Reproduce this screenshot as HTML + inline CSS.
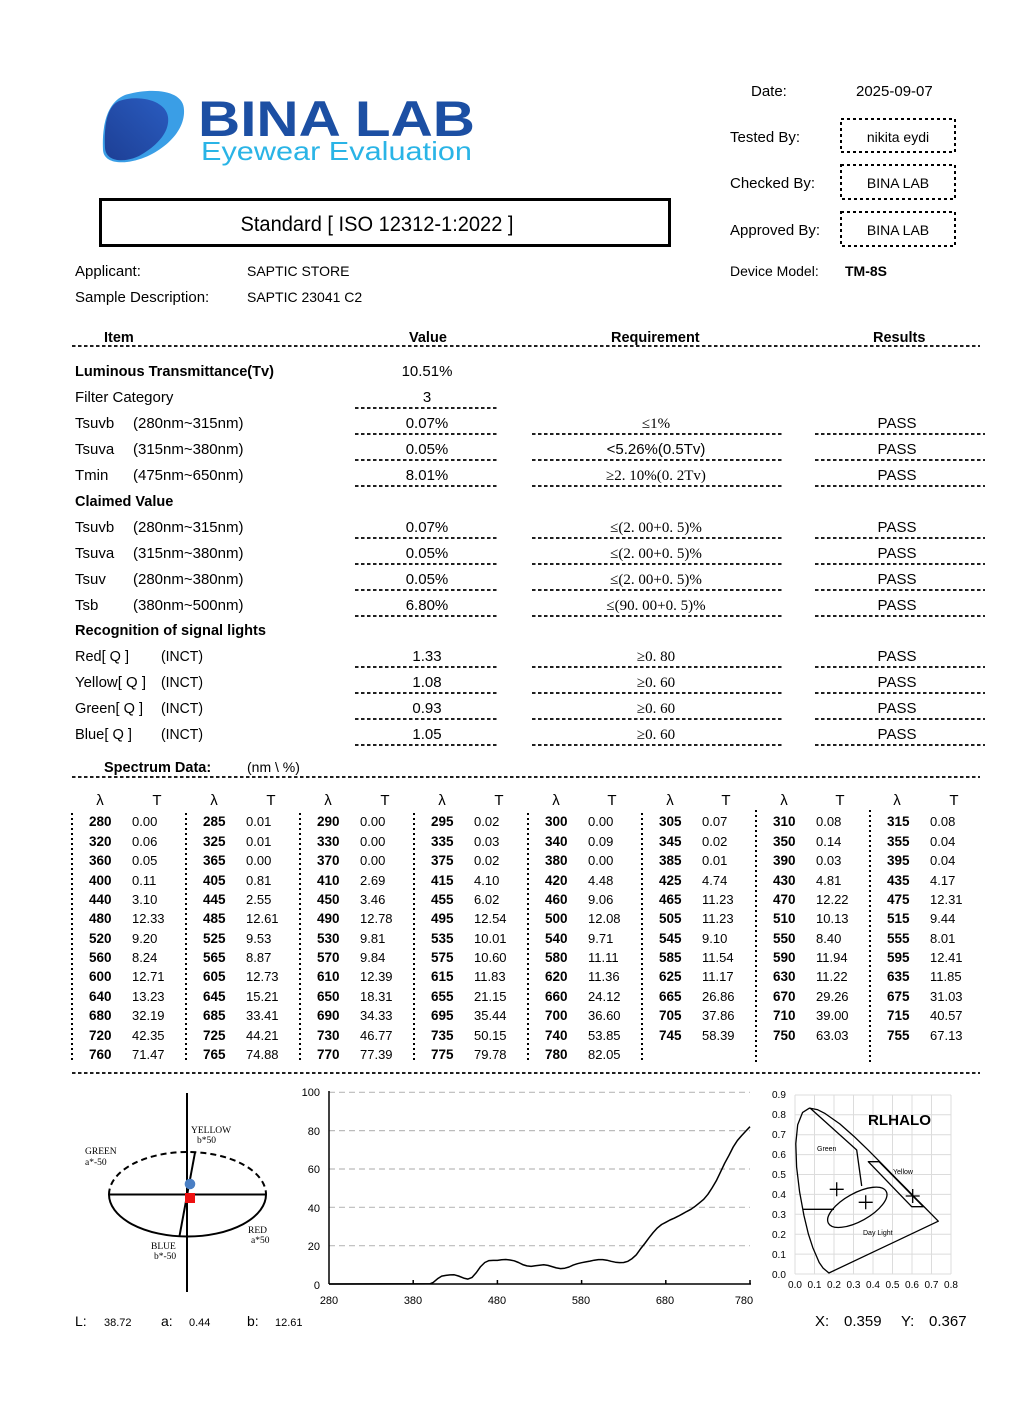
<!DOCTYPE html>
<html><head><meta charset="utf-8">
<style>
html,body{margin:0;padding:0;background:#fff;}
svg{display:block;}
text{font-family:"Liberation Sans","Noto Sans CJK SC",sans-serif;fill:#000;}
.b{font-weight:bold;}
.s15{font-size:15px;}
.h{font-size:14.5px;font-weight:bold;}
text.ser, .ser text{font-family:"Liberation Serif","DejaVu Serif","Noto Serif CJK SC",serif !important;font-size:15px;}
text.lab, .lab text{font-family:"Liberation Serif","DejaVu Serif",serif !important;font-size:9.5px;}
.dl{stroke:#000;stroke-width:1.8;stroke-dasharray:3.5 2.5;fill:none;}
.sp{font-size:13px;}
.spb{font-size:13.5px;font-weight:bold;}
.ax{font-size:11px;}
.cx{font-size:10px;}
</style></head>
<body>
<svg width="1024" height="1412" viewBox="0 0 1024 1412" xmlns="http://www.w3.org/2000/svg">
<defs>
<linearGradient id="lg1" x1="0" y1="1" x2="1" y2="0">
<stop offset="0" stop-color="#1d3f95"/><stop offset="1" stop-color="#2a5cc0"/>
</linearGradient>
</defs>
<rect width="1024" height="1412" fill="#fff"/>

<!-- Logo -->
<path d="M125 95 C152 87 184 90 184 110 C185 128 170 145 150 155 C130 165 104 166 103 150 C102 130 105 103 125 95 Z" fill="#3a9ee6"/>
<path d="M119 101 C140 94 166 101 168 117 C170 132 157 146 139 156 C124 163 106 162 105 148 C104 128 106 107 119 101 Z" fill="url(#lg1)"/>
<text x="198" y="136" font-size="50" font-weight="bold" style="fill:#1c4fa3" textLength="277" lengthAdjust="spacingAndGlyphs">BINA LAB</text>
<text x="201" y="160" font-size="26" style="fill:#2ab4e6" textLength="271" lengthAdjust="spacingAndGlyphs">Eyewear Evaluation</text>

<!-- Standard box -->
<rect x="100.5" y="199.5" width="569" height="46" fill="none" stroke="#000" stroke-width="3"/>
<text x="377" y="231" font-size="21" text-anchor="middle" textLength="273" lengthAdjust="spacingAndGlyphs">Standard [ ISO 12312-1:2022 ]</text>

<text x="75" y="276" class="s15">Applicant:</text>
<text x="247" y="276" font-size="14">SAPTIC STORE</text>
<text x="75" y="302" class="s15">Sample Description:</text>
<text x="247" y="302" font-size="14">SAPTIC 23041 C2</text>

<!-- Right header -->
<text x="751" y="96" class="s15">Date:</text>
<text x="856" y="96" class="s15">2025-09-07</text>
<text x="730" y="142" class="s15">Tested By:</text>
<rect x="841" y="119" width="114" height="33" fill="none" stroke="#000" stroke-width="2" stroke-dasharray="3 3"/>
<text x="898" y="142" font-size="14" text-anchor="middle">nikita eydi</text>
<text x="730" y="188" class="s15">Checked By:</text>
<rect x="841" y="165" width="114" height="34" fill="none" stroke="#000" stroke-width="2" stroke-dasharray="3 3"/>
<text x="898" y="188" font-size="14" text-anchor="middle">BINA LAB</text>
<text x="730" y="235" class="s15">Approved By:</text>
<rect x="841" y="212" width="114" height="34" fill="none" stroke="#000" stroke-width="2" stroke-dasharray="3 3"/>
<text x="898" y="235" font-size="14" text-anchor="middle">BINA LAB</text>
<text x="730" y="276" font-size="14">Device Model:</text>
<text x="845" y="276" font-size="14" class="b">TM-8S</text>

<!-- Table header -->
<text x="104" y="342" class="h">Item</text>
<text x="409" y="342" class="h">Value</text>
<text x="611" y="342" class="h">Requirement</text>
<text x="873" y="342" class="h">Results</text>
<line x1="72" y1="346" x2="980" y2="346" class="dl"/>

<!-- Rows -->
<text x="75" y="376" class="h" textLength="199" lengthAdjust="spacingAndGlyphs">Luminous Transmittance(Tv)</text>
<text x="427" y="376" class="s15" text-anchor="middle">10.51%</text>

<text x="75" y="402" class="s15">Filter Category</text>
<text x="427" y="402" class="s15" text-anchor="middle">3</text>
<line x1="355" y1="408" x2="497" y2="408" class="dl"/>

<g class="s15">
<text x="75" y="428">Tsuvb</text><text x="133" y="428">(280nm~315nm)</text>
<text x="75" y="454">Tsuva</text><text x="133" y="454">(315nm~380nm)</text>
<text x="75" y="480">Tmin</text><text x="133" y="480">(475nm~650nm)</text>
<text x="75" y="532">Tsuvb</text><text x="133" y="532">(280nm~315nm)</text>
<text x="75" y="558">Tsuva</text><text x="133" y="558">(315nm~380nm)</text>
<text x="75" y="584">Tsuv</text><text x="133" y="584">(280nm~380nm)</text>
<text x="75" y="610">Tsb</text><text x="133" y="610">(380nm~500nm)</text>
</g>
<g class="s15" text-anchor="middle">
<text x="427" y="428">0.07%</text>
<text x="427" y="454">0.05%</text>
<text x="427" y="480">8.01%</text>
<text x="427" y="532">0.07%</text>
<text x="427" y="558">0.05%</text>
<text x="427" y="584">0.05%</text>
<text x="427" y="610">6.80%</text>
<text x="897" y="428">PASS</text>
<text x="897" y="454">PASS</text>
<text x="897" y="480">PASS</text>
<text x="897" y="532">PASS</text>
<text x="897" y="558">PASS</text>
<text x="897" y="584">PASS</text>
<text x="897" y="610">PASS</text>
<text x="427" y="661">1.33</text>
<text x="427" y="687">1.08</text>
<text x="427" y="713">0.93</text>
<text x="427" y="739">1.05</text>
<text x="897" y="661">PASS</text>
<text x="897" y="687">PASS</text>
<text x="897" y="713">PASS</text>
<text x="897" y="739">PASS</text>
</g>
<g text-anchor="middle" font-size="15" font-family="Liberation Serif, DejaVu Serif, Noto Serif CJK SC, serif">
<text class="ser" style="font-family:'Liberation Serif','DejaVu Serif','Noto Serif CJK SC',serif" x="656" y="428">≤1%</text>
<text class="ser" style="font-family:'Liberation Serif','DejaVu Serif','Noto Serif CJK SC',serif" x="656" y="480">≥2. 10%(0. 2Tv)</text>
<text class="ser" style="font-family:'Liberation Serif','DejaVu Serif','Noto Serif CJK SC',serif" x="656" y="532">≤(2. 00+0. 5)%</text>
<text class="ser" style="font-family:'Liberation Serif','DejaVu Serif','Noto Serif CJK SC',serif" x="656" y="558">≤(2. 00+0. 5)%</text>
<text class="ser" style="font-family:'Liberation Serif','DejaVu Serif','Noto Serif CJK SC',serif" x="656" y="584">≤(2. 00+0. 5)%</text>
<text class="ser" style="font-family:'Liberation Serif','DejaVu Serif','Noto Serif CJK SC',serif" x="656" y="610">≤(90. 00+0. 5)%</text>
<text class="ser" style="font-family:'Liberation Serif','DejaVu Serif','Noto Serif CJK SC',serif" x="656" y="661">≥0. 80</text>
<text class="ser" style="font-family:'Liberation Serif','DejaVu Serif','Noto Serif CJK SC',serif" x="656" y="687">≥0. 60</text>
<text class="ser" style="font-family:'Liberation Serif','DejaVu Serif','Noto Serif CJK SC',serif" x="656" y="713">≥0. 60</text>
<text class="ser" style="font-family:'Liberation Serif','DejaVu Serif','Noto Serif CJK SC',serif" x="656" y="739">≥0. 60</text>
</g>
<text x="656" y="454" class="s15" text-anchor="middle">&lt;5.26%(0.5Tv)</text>

<text x="75" y="506" class="h">Claimed Value</text>
<text x="75" y="635" class="h" textLength="191" lengthAdjust="spacingAndGlyphs">Recognition of signal lights</text>

<g class="s15">
<text x="75" y="661" textLength="54" lengthAdjust="spacingAndGlyphs">Red[ Q ]</text><text x="161" y="661" textLength="42" lengthAdjust="spacingAndGlyphs">(INCT)</text>
<text x="75" y="687" textLength="71" lengthAdjust="spacingAndGlyphs">Yellow[ Q ]</text><text x="161" y="687" textLength="42" lengthAdjust="spacingAndGlyphs">(INCT)</text>
<text x="75" y="713" textLength="68" lengthAdjust="spacingAndGlyphs">Green[ Q ]</text><text x="161" y="713" textLength="42" lengthAdjust="spacingAndGlyphs">(INCT)</text>
<text x="75" y="739" textLength="57" lengthAdjust="spacingAndGlyphs">Blue[ Q ]</text><text x="161" y="739" textLength="42" lengthAdjust="spacingAndGlyphs">(INCT)</text>
</g>

<!-- row lines -->
<g class="dl">
<line x1="355" y1="434" x2="497" y2="434"/><line x1="532" y1="434" x2="784" y2="434"/><line x1="815" y1="434" x2="985" y2="434"/>
<line x1="355" y1="460" x2="497" y2="460"/><line x1="532" y1="460" x2="784" y2="460"/><line x1="815" y1="460" x2="985" y2="460"/>
<line x1="355" y1="486" x2="497" y2="486"/><line x1="532" y1="486" x2="784" y2="486"/><line x1="815" y1="486" x2="985" y2="486"/>
<line x1="355" y1="538" x2="497" y2="538"/><line x1="532" y1="538" x2="784" y2="538"/><line x1="815" y1="538" x2="985" y2="538"/>
<line x1="355" y1="564" x2="497" y2="564"/><line x1="532" y1="564" x2="784" y2="564"/><line x1="815" y1="564" x2="985" y2="564"/>
<line x1="355" y1="590" x2="497" y2="590"/><line x1="532" y1="590" x2="784" y2="590"/><line x1="815" y1="590" x2="985" y2="590"/>
<line x1="355" y1="616" x2="497" y2="616"/><line x1="532" y1="616" x2="784" y2="616"/><line x1="815" y1="616" x2="985" y2="616"/>
<line x1="355" y1="667" x2="497" y2="667"/><line x1="532" y1="667" x2="784" y2="667"/><line x1="815" y1="667" x2="985" y2="667"/>
<line x1="355" y1="693" x2="497" y2="693"/><line x1="532" y1="693" x2="784" y2="693"/><line x1="815" y1="693" x2="985" y2="693"/>
<line x1="355" y1="719" x2="497" y2="719"/><line x1="532" y1="719" x2="784" y2="719"/><line x1="815" y1="719" x2="985" y2="719"/>
<line x1="355" y1="745" x2="497" y2="745"/><line x1="532" y1="745" x2="784" y2="745"/><line x1="815" y1="745" x2="985" y2="745"/>
</g>

<!-- Spectrum data -->
<text x="104" y="772" class="h">Spectrum Data:</text>
<text x="247" y="772" font-size="14">(nm \ %)</text>
<line x1="72" y1="777" x2="980" y2="777" class="dl"/>

<g font-size="15" text-anchor="middle">
<text x="100" y="805">λ</text><text x="157" y="805">T</text>
<text x="214" y="805">λ</text><text x="271" y="805">T</text>
<text x="328" y="805">λ</text><text x="385" y="805">T</text>
<text x="442" y="805">λ</text><text x="499" y="805">T</text>
<text x="556" y="805">λ</text><text x="612" y="805">T</text>
<text x="670" y="805">λ</text><text x="726" y="805">T</text>
<text x="784" y="805">λ</text><text x="840" y="805">T</text>
<text x="897" y="805">λ</text><text x="954" y="805">T</text>
</g>

<g stroke="#000" stroke-width="2" stroke-dasharray="2 3">
<line x1="72" y1="813" x2="72" y2="1062"/>
<line x1="186" y1="813" x2="186" y2="1062"/>
<line x1="300" y1="813" x2="300" y2="1062"/>
<line x1="414" y1="813" x2="414" y2="1062"/>
<line x1="528" y1="813" x2="528" y2="1062"/>
<line x1="642" y1="813" x2="642" y2="1062"/>
<line x1="756" y1="810" x2="756" y2="1062"/>
<line x1="870" y1="810" x2="870" y2="1062"/>
</g>

<g class="spb">
<text x="89" y="826">280</text><text x="89" y="846">320</text><text x="89" y="865">360</text><text x="89" y="885">400</text><text x="89" y="904">440</text><text x="89" y="923">480</text><text x="89" y="943">520</text><text x="89" y="962">560</text><text x="89" y="981">600</text><text x="89" y="1001">640</text><text x="89" y="1020">680</text><text x="89" y="1040">720</text><text x="89" y="1059">760</text>
<text x="203" y="826">285</text><text x="203" y="846">325</text><text x="203" y="865">365</text><text x="203" y="885">405</text><text x="203" y="904">445</text><text x="203" y="923">485</text><text x="203" y="943">525</text><text x="203" y="962">565</text><text x="203" y="981">605</text><text x="203" y="1001">645</text><text x="203" y="1020">685</text><text x="203" y="1040">725</text><text x="203" y="1059">765</text>
<text x="317" y="826">290</text><text x="317" y="846">330</text><text x="317" y="865">370</text><text x="317" y="885">410</text><text x="317" y="904">450</text><text x="317" y="923">490</text><text x="317" y="943">530</text><text x="317" y="962">570</text><text x="317" y="981">610</text><text x="317" y="1001">650</text><text x="317" y="1020">690</text><text x="317" y="1040">730</text><text x="317" y="1059">770</text>
<text x="431" y="826">295</text><text x="431" y="846">335</text><text x="431" y="865">375</text><text x="431" y="885">415</text><text x="431" y="904">455</text><text x="431" y="923">495</text><text x="431" y="943">535</text><text x="431" y="962">575</text><text x="431" y="981">615</text><text x="431" y="1001">655</text><text x="431" y="1020">695</text><text x="431" y="1040">735</text><text x="431" y="1059">775</text>
<text x="545" y="826">300</text><text x="545" y="846">340</text><text x="545" y="865">380</text><text x="545" y="885">420</text><text x="545" y="904">460</text><text x="545" y="923">500</text><text x="545" y="943">540</text><text x="545" y="962">580</text><text x="545" y="981">620</text><text x="545" y="1001">660</text><text x="545" y="1020">700</text><text x="545" y="1040">740</text><text x="545" y="1059">780</text>
<text x="659" y="826">305</text><text x="659" y="846">345</text><text x="659" y="865">385</text><text x="659" y="885">425</text><text x="659" y="904">465</text><text x="659" y="923">505</text><text x="659" y="943">545</text><text x="659" y="962">585</text><text x="659" y="981">625</text><text x="659" y="1001">665</text><text x="659" y="1020">705</text><text x="659" y="1040">745</text>
<text x="773" y="826">310</text><text x="773" y="846">350</text><text x="773" y="865">390</text><text x="773" y="885">430</text><text x="773" y="904">470</text><text x="773" y="923">510</text><text x="773" y="943">550</text><text x="773" y="962">590</text><text x="773" y="981">630</text><text x="773" y="1001">670</text><text x="773" y="1020">710</text><text x="773" y="1040">750</text>
<text x="887" y="826">315</text><text x="887" y="846">355</text><text x="887" y="865">395</text><text x="887" y="885">435</text><text x="887" y="904">475</text><text x="887" y="923">515</text><text x="887" y="943">555</text><text x="887" y="962">595</text><text x="887" y="981">635</text><text x="887" y="1001">675</text><text x="887" y="1020">715</text><text x="887" y="1040">755</text>
</g>
<g class="sp">
<text x="132" y="826">0.00</text><text x="132" y="846">0.06</text><text x="132" y="865">0.05</text><text x="132" y="885">0.11</text><text x="132" y="904">3.10</text><text x="132" y="923">12.33</text><text x="132" y="943">9.20</text><text x="132" y="962">8.24</text><text x="132" y="981">12.71</text><text x="132" y="1001">13.23</text><text x="132" y="1020">32.19</text><text x="132" y="1040">42.35</text><text x="132" y="1059">71.47</text>
<text x="246" y="826">0.01</text><text x="246" y="846">0.01</text><text x="246" y="865">0.00</text><text x="246" y="885">0.81</text><text x="246" y="904">2.55</text><text x="246" y="923">12.61</text><text x="246" y="943">9.53</text><text x="246" y="962">8.87</text><text x="246" y="981">12.73</text><text x="246" y="1001">15.21</text><text x="246" y="1020">33.41</text><text x="246" y="1040">44.21</text><text x="246" y="1059">74.88</text>
<text x="360" y="826">0.00</text><text x="360" y="846">0.00</text><text x="360" y="865">0.00</text><text x="360" y="885">2.69</text><text x="360" y="904">3.46</text><text x="360" y="923">12.78</text><text x="360" y="943">9.81</text><text x="360" y="962">9.84</text><text x="360" y="981">12.39</text><text x="360" y="1001">18.31</text><text x="360" y="1020">34.33</text><text x="360" y="1040">46.77</text><text x="360" y="1059">77.39</text>
<text x="474" y="826">0.02</text><text x="474" y="846">0.03</text><text x="474" y="865">0.02</text><text x="474" y="885">4.10</text><text x="474" y="904">6.02</text><text x="474" y="923">12.54</text><text x="474" y="943">10.01</text><text x="474" y="962">10.60</text><text x="474" y="981">11.83</text><text x="474" y="1001">21.15</text><text x="474" y="1020">35.44</text><text x="474" y="1040">50.15</text><text x="474" y="1059">79.78</text>
<text x="588" y="826">0.00</text><text x="588" y="846">0.09</text><text x="588" y="865">0.00</text><text x="588" y="885">4.48</text><text x="588" y="904">9.06</text><text x="588" y="923">12.08</text><text x="588" y="943">9.71</text><text x="588" y="962">11.11</text><text x="588" y="981">11.36</text><text x="588" y="1001">24.12</text><text x="588" y="1020">36.60</text><text x="588" y="1040">53.85</text><text x="588" y="1059">82.05</text>
<text x="702" y="826">0.07</text><text x="702" y="846">0.02</text><text x="702" y="865">0.01</text><text x="702" y="885">4.74</text><text x="702" y="904">11.23</text><text x="702" y="923">11.23</text><text x="702" y="943">9.10</text><text x="702" y="962">11.54</text><text x="702" y="981">11.17</text><text x="702" y="1001">26.86</text><text x="702" y="1020">37.86</text><text x="702" y="1040">58.39</text>
<text x="816" y="826">0.08</text><text x="816" y="846">0.14</text><text x="816" y="865">0.03</text><text x="816" y="885">4.81</text><text x="816" y="904">12.22</text><text x="816" y="923">10.13</text><text x="816" y="943">8.40</text><text x="816" y="962">11.94</text><text x="816" y="981">11.22</text><text x="816" y="1001">29.26</text><text x="816" y="1020">39.00</text><text x="816" y="1040">63.03</text>
<text x="930" y="826">0.08</text><text x="930" y="846">0.04</text><text x="930" y="865">0.04</text><text x="930" y="885">4.17</text><text x="930" y="904">12.31</text><text x="930" y="923">9.44</text><text x="930" y="943">8.01</text><text x="930" y="962">12.41</text><text x="930" y="981">11.85</text><text x="930" y="1001">31.03</text><text x="930" y="1020">40.57</text><text x="930" y="1040">67.13</text>
</g>
<line x1="72" y1="1073" x2="980" y2="1073" class="dl"/>

<!-- Lab diagram -->
<g stroke="#000" stroke-width="2" fill="none">
<line x1="187" y1="1093" x2="187" y2="1292"/>
<line x1="109" y1="1194.5" x2="266" y2="1194.5"/>
<path d="M109 1194.5 A78.5 42 0 0 0 266 1194.5"/>
<path d="M109 1194.5 A78.5 42.5 0 0 1 266 1194.5" stroke-dasharray="6 4"/>
<line x1="195" y1="1152.5" x2="179.5" y2="1236"/>
</g>
<circle cx="190" cy="1184" r="5.3" fill="#4a7fc4"/>
<rect x="185" y="1193" width="10" height="10" fill="#ee1111"/>
<g font-size="9.5">
<text class="lab" style="font-family:'Liberation Serif','DejaVu Serif',serif" x="191" y="1133">YELLOW</text>
<text class="lab" style="font-family:'Liberation Serif','DejaVu Serif',serif" x="197" y="1143">b*50</text>
<text class="lab" style="font-family:'Liberation Serif','DejaVu Serif',serif" x="85" y="1154">GREEN</text>
<text class="lab" style="font-family:'Liberation Serif','DejaVu Serif',serif" x="85" y="1165">a*-50</text>
<text class="lab" style="font-family:'Liberation Serif','DejaVu Serif',serif" x="248" y="1233">RED</text>
<text class="lab" style="font-family:'Liberation Serif','DejaVu Serif',serif" x="251" y="1243">a*50</text>
<text class="lab" style="font-family:'Liberation Serif','DejaVu Serif',serif" x="151" y="1249">BLUE</text>
<text class="lab" style="font-family:'Liberation Serif','DejaVu Serif',serif" x="154" y="1259">b*-50</text>
</g>
<text x="75" y="1326" font-size="14">L:</text><text x="104" y="1326" font-size="11">38.72</text>
<text x="161" y="1326" font-size="14">a:</text><text x="189" y="1326" font-size="11">0.44</text>
<text x="247" y="1326" font-size="14">b:</text><text x="275" y="1326" font-size="11">12.61</text>

<!-- Spectrum chart -->
<g stroke="#bbb" stroke-width="1.2" stroke-dasharray="6 4">
<line x1="329" y1="1092.3" x2="750" y2="1092.3"/>
<line x1="329" y1="1130.6" x2="750" y2="1130.6"/>
<line x1="329" y1="1169" x2="750" y2="1169"/>
<line x1="329" y1="1207.3" x2="750" y2="1207.3"/>
<line x1="329" y1="1245.7" x2="750" y2="1245.7"/>
</g>
<g stroke="#000" stroke-width="1.5">
<line x1="329" y1="1091" x2="329" y2="1284"/>
<line x1="329" y1="1284" x2="751" y2="1284"/>
<line x1="413.2" y1="1280" x2="413.2" y2="1284"/>
<line x1="497.4" y1="1280" x2="497.4" y2="1284"/>
<line x1="581.6" y1="1280" x2="581.6" y2="1284"/>
<line x1="665.8" y1="1280" x2="665.8" y2="1284"/>
<line x1="750" y1="1280" x2="750" y2="1284"/>
</g>
<g class="ax" text-anchor="end">
<text x="320" y="1096">100</text>
<text x="320" y="1135">80</text>
<text x="320" y="1173">60</text>
<text x="320" y="1212">40</text>
<text x="320" y="1250">20</text>
<text x="320" y="1289">0</text>
</g>
<g class="ax" text-anchor="middle">
<text x="329" y="1304">280</text>
<text x="413" y="1304">380</text>
<text x="497" y="1304">480</text>
<text x="581" y="1304">580</text>
<text x="665" y="1304">680</text>
<text x="744" y="1304">780</text>
</g>
<polyline fill="none" stroke="#000" stroke-width="1.5" stroke-linejoin="round" points="329,1284 430,1283.8 433.2,1282.4 437.5,1278.8 441.7,1276.1 445.9,1275.4 450.1,1274.9 454.3,1274.8 458.5,1276 463.7,1278.1 467.9,1279.1 472.1,1277.4 476.4,1272.5 480.6,1266.6 484.8,1262.5 489,1260.6 493.2,1260.4 497.4,1260.4 501.6,1259.8 505.8,1259.5 510,1260 514.2,1260.8 518.5,1262.5 522.7,1264.6 526.9,1265.9 531.1,1266.4 535.3,1265.7 539.5,1265.2 543.7,1264.8 547.9,1265.4 552.1,1266.6 556.3,1267.9 560.6,1268.6 564.8,1268.2 569,1267 573.2,1265.1 577.4,1263.7 581.6,1262.7 585.8,1261.9 590,1261.1 594.2,1260.2 598.4,1259.6 602.7,1259.6 606.9,1260.2 611.1,1261.3 615.3,1262.2 619.5,1262.6 623.7,1262.5 627.9,1261.3 632.1,1258.6 636.3,1254.8 640.5,1248.9 644.8,1243.5 649,1237.8 653.2,1232.5 657.4,1227.9 661.6,1224.5 665.8,1222.3 670,1220 674.2,1218.2 678.4,1216.1 682.6,1213.8 686.9,1211.4 691.1,1209.2 695.3,1206.2 699.5,1202.8 703.7,1199.3 707.9,1194.3 712.1,1187.9 716.3,1180.8 720.5,1172.1 724.7,1163.2 729,1155.3 733.2,1147 737.4,1140.5 741.6,1135.6 745.8,1131.1 750,1126.7"/>

<!-- CIE chart -->
<g stroke="#dcdcdc" stroke-width="1">
<line x1="795" y1="1095" x2="795" y2="1274"/><line x1="814.5" y1="1095" x2="814.5" y2="1274"/><line x1="834" y1="1095" x2="834" y2="1274"/><line x1="853.5" y1="1095" x2="853.5" y2="1274"/><line x1="873" y1="1095" x2="873" y2="1274"/><line x1="892.5" y1="1095" x2="892.5" y2="1274"/><line x1="912" y1="1095" x2="912" y2="1274"/><line x1="931.5" y1="1095" x2="931.5" y2="1274"/><line x1="951" y1="1095" x2="951" y2="1274"/>
<line x1="795" y1="1274" x2="951" y2="1274"/><line x1="795" y1="1254.1" x2="951" y2="1254.1"/><line x1="795" y1="1234.2" x2="951" y2="1234.2"/><line x1="795" y1="1214.3" x2="951" y2="1214.3"/><line x1="795" y1="1194.4" x2="951" y2="1194.4"/><line x1="795" y1="1174.5" x2="951" y2="1174.5"/><line x1="795" y1="1154.6" x2="951" y2="1154.6"/><line x1="795" y1="1134.7" x2="951" y2="1134.7"/><line x1="795" y1="1114.8" x2="951" y2="1114.8"/><line x1="795" y1="1095" x2="951" y2="1095"/>
</g>
<g class="cx">
<text x="772" y="1098">0.9</text><text x="772" y="1118">0.8</text><text x="772" y="1138">0.7</text><text x="772" y="1158">0.6</text><text x="772" y="1178">0.5</text><text x="772" y="1198">0.4</text><text x="772" y="1218">0.3</text><text x="772" y="1238">0.2</text><text x="772" y="1258">0.1</text><text x="772" y="1278">0.0</text>
</g>
<g class="cx" text-anchor="middle">
<text x="795" y="1288">0.0</text><text x="814.5" y="1288">0.1</text><text x="834" y="1288">0.2</text><text x="853.5" y="1288">0.3</text><text x="873" y="1288">0.4</text><text x="892.5" y="1288">0.5</text><text x="912" y="1288">0.6</text><text x="931.5" y="1288">0.7</text><text x="951" y="1288">0.8</text>
</g>
<g fill="none" stroke="#000" stroke-width="1.3" stroke-linejoin="round">
<path d="M828.9 1273 L823.1 1268.1 L819.2 1262.5 L812.8 1247.6 L808.4 1234.1 L803.9 1215.3 L799.6 1191.9 L796.6 1166.9 L795.8 1143.7 L797.7 1124.7 L802.6 1112.4 L809.5 1108.1 L817.3 1109.6 L825.2 1113.6 L839.8 1123.9 L853.8 1136.2 L867.8 1149.7 L881.6 1163.6 L894.9 1177.2 L907.2 1189.6 L917.3 1199.9 L924.8 1207.5 L929.8 1212.6 L938.3 1221.2 Z"/>
<path d="M810 1108 L856.7 1150 L861.7 1186"/>
<path d="M803.3 1209.3 L834 1209.3"/>
<path d="M868.3 1161.7 L879 1161.7 L923.3 1206.7 L911.7 1206.7 Z"/>
<ellipse cx="857.3" cy="1207.3" rx="33" ry="14" transform="rotate(-29 857.3 1207.3)"/>
<path d="M829.7 1189.3 h14 M836.7 1182.3 v14"/>
<path d="M858.7 1202.3 h14 M865.7 1195.3 v14"/>
<path d="M905.7 1196 h14 M912.7 1189 v14"/>
</g>
<text x="868" y="1125" font-size="15" class="b" textLength="63" lengthAdjust="spacingAndGlyphs">RLHALO</text>
<text x="817" y="1151" font-size="7">Green</text>
<text x="893" y="1174" font-size="7">Yellow</text>
<text x="863" y="1235" font-size="7">Day Light</text>

<text x="815" y="1326" class="s15">X:</text><text x="844" y="1326" class="s15">0.359</text>
<text x="901" y="1326" class="s15">Y:</text><text x="929" y="1326" class="s15">0.367</text>
</svg>
</body></html>
